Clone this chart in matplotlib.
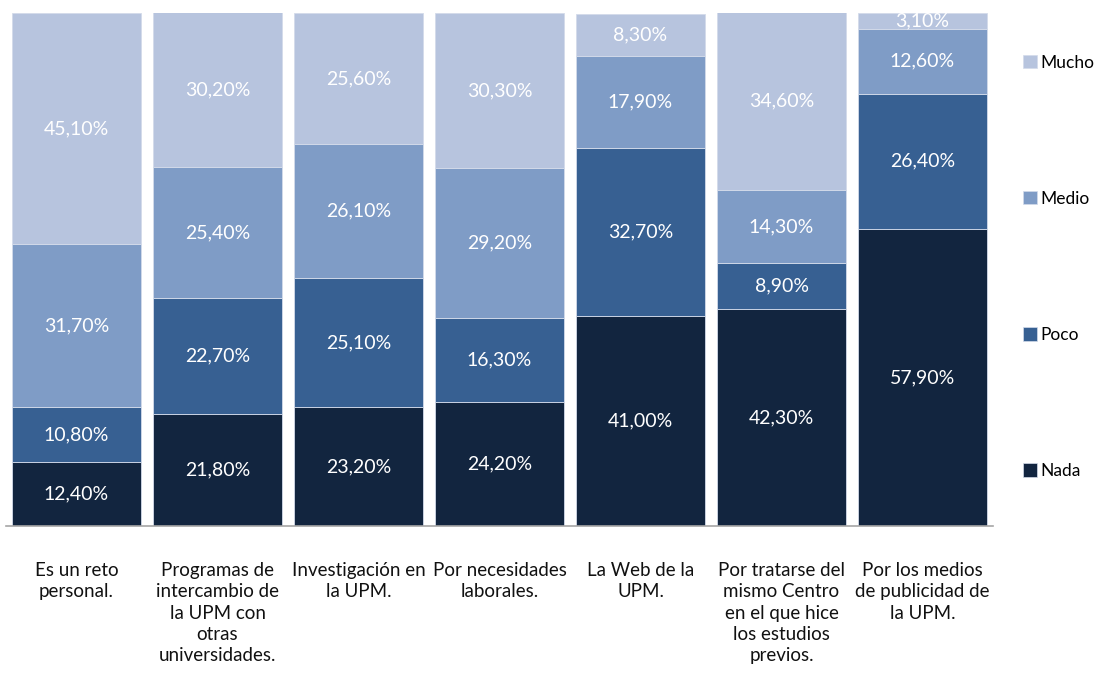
import matplotlib

matplotlib.use("Agg")

import matplotlib.pyplot as plt
import numpy as np
from matplotlib.patches import Patch

plt.rcParams["font.family"] = ["Lato", "DejaVu Sans"]

categories = [
    "Es un reto\npersonal.",
    "Programas de\nintercambio de\nla UPM con\notras\nuniversidades.",
    "Investigación en\nla UPM.",
    "Por necesidades\nlaborales.",
    "La Web de la\nUPM.",
    "Por tratarse del\nmismo Centro\nen el que hice\nlos estudios\nprevios.",
    "Por los medios\nde publicidad de\nla UPM.",
]
series_names = ["Nada", "Poco", "Medio", "Mucho"]
nada = [12.4, 21.8, 23.2, 24.2, 41.0, 42.3, 57.9]
poco = [10.8, 22.7, 25.1, 16.3, 32.7, 8.9, 26.4]
medio = [31.7, 25.4, 26.1, 29.2, 17.9, 14.3, 12.6]
mucho = [45.1, 30.2, 25.6, 30.3, 8.3, 34.6, 3.1]

COLORS = ["#12253f", "#376092", "#7f9cc6", "#b7c4de"]
EDGE = "#d3dbea"

fig = plt.figure(figsize=(10.94, 6.75), dpi=100)
ax = fig.add_axes([6 / 1094, 1 - 526 / 675, 987 / 1094, 513 / 675])

x = np.arange(len(categories))
bottom = np.zeros(len(categories))
for name, values, color in zip(series_names, [nada, poco, medio, mucho], COLORS):
    values = np.array(values)
    ax.bar(x, values, bottom=bottom, width=0.915, color=color,
           edgecolor=EDGE, linewidth=0.6, label=name)
    for xi, b, v in zip(x, bottom, values):
        ax.text(xi, b + v / 2, f"{v:.2f}%".replace(".", ","), ha="center",
                va="center", color="white", fontsize=14)
    bottom += values

ax.set_xlim(-0.5, len(categories) - 0.5)
ax.set_ylim(0, 100)
ax.set_yticks([])
ax.set_xticks(x)
ax.set_xticklabels(categories, fontsize=13.5, color="#111111", linespacing=1.3)
ax.tick_params(axis="x", length=0, pad=26)
for side in ["top", "right", "left"]:
    ax.spines[side].set_visible(False)
ax.spines["bottom"].set_color("#a6a6a6")
ax.spines["bottom"].set_linewidth(1.2)

handles = [Patch(facecolor=c, edgecolor=EDGE, linewidth=0.5) for c in COLORS][::-1]
fig.legend(handles, series_names[::-1], loc="upper left",
           bbox_to_anchor=(1014 / 1094, 1 - 46 / 675), frameon=False,
           fontsize=12.5, labelspacing=6.92, handlelength=0.8,
           handleheight=0.8, handletextpad=0.2, borderpad=0)

fig.savefig("out.png", dpi=100, facecolor="white")
